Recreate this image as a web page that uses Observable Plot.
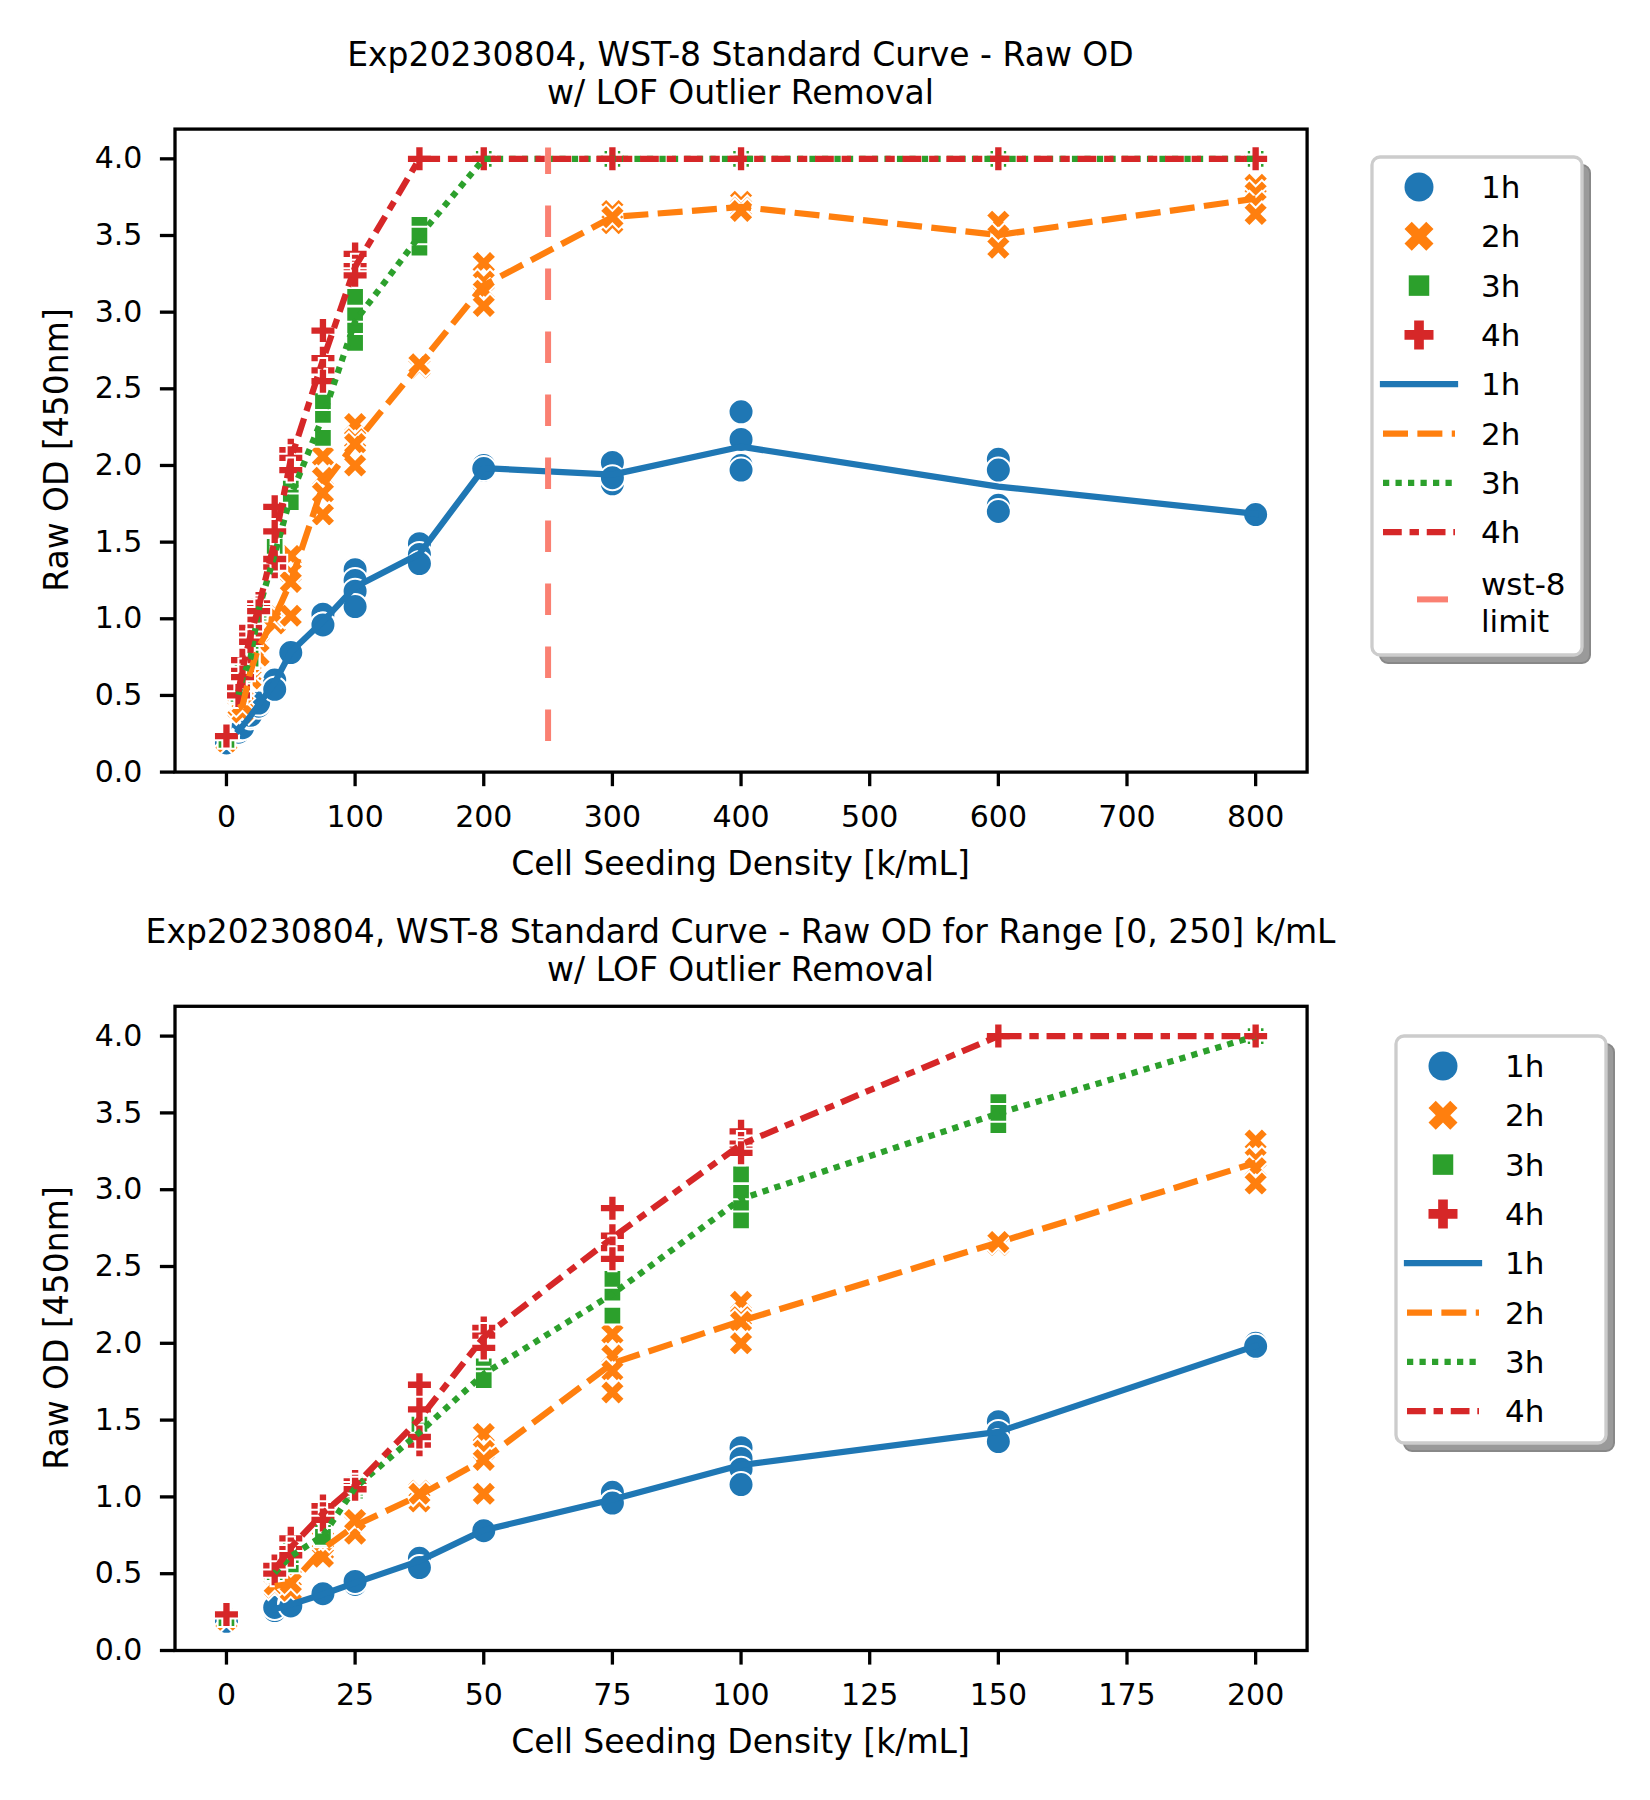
<!DOCTYPE html>
<html><head><meta charset="utf-8">
<script src="https://cdn.jsdelivr.net/npm/d3@7"></script>
<script src="https://cdn.jsdelivr.net/npm/@observablehq/plot@0.6"></script>
<style>
body{margin:0;background:#fff;}
#root{position:relative;width:1650px;height:1800px;font-family:"DejaVu Sans",sans-serif;color:#000;overflow:hidden;}
.title{position:absolute;left:0px;width:1481px;text-align:center;font-size:33px;white-space:nowrap;}
.xlabel{position:absolute;left:0px;width:1481px;text-align:center;font-size:33px;line-height:40px;white-space:nowrap;}
.ylabel{position:absolute;font-size:33px;line-height:40px;white-space:nowrap;transform:translate(-50%,-50%) rotate(-90deg);}
.plot{position:absolute;left:0;}
.legend{position:absolute;}
</style></head><body><div id="root"></div>
<script>
// ---- data ----
const density = [0, 9.375, 12.5, 18.75, 25, 37.5, 50, 75, 100, 150, 200, 300, 400, 600, 800];
const series = ["1h", "2h", "3h", "4h"];
const od1h = [[0.19],[0.27,0.26,0.28],[0.30,0.31,0.29],[0.37,0.36,0.37],[0.44,0.43,0.45],[0.61,0.60,0.54],[0.79,0.78,0.78],[1.03,0.96,0.96],[1.32,1.25,1.18,1.08],[1.49,1.42,1.36],[2.00,1.97,1.98],[2.02,1.88,1.92],[2.35,2.17,2.00,1.97],[2.04,1.97,1.74,1.70],[1.69,1.68]];
const od2h = [[0.20],[0.41,0.43],[0.47,0.39,0.44],[0.65,0.61,0.72],[0.83,0.76,0.85],[1.04,0.97,1.02],[1.41,1.30,1.24,1.02],[2.06,1.92,1.82,1.68],[2.27,2.17,2.14,2.00],[2.67,2.64,2.66],[3.32,3.20,3.14,3.04],[3.66,3.58,3.62],[3.72,3.68,3.66],[3.59,3.50,3.42],[3.83,3.78,3.71,3.64]];
const od3h = [[0.21],[0.50,0.51],[0.56,0.66,0.62],[0.73,0.77,0.74],[1.04,1.06,1.08],[1.41,1.38,1.47],[1.85,1.79,1.76],[2.35,2.33,2.18,2.42],[3.10,2.98,2.88,2.80],[3.57,3.42,3.50],[4,4,4],[4,4,4],[4,4,4],[4,4,4],[4,4,4]];
const od4h = [[0.235],[0.55,0.50],[0.73,0.66,0.62],[0.94,0.89,0.85],[1.10,1.07,1.05],[1.73,1.57,1.34,1.39],[2.10,2.05,1.97],[2.88,2.70,2.62,2.55],[3.38,3.30,3.26,3.24],[4,4,4],[4,4,4],[4,4,4],[4,4,4],[4,4,4],[4,4,4]];
const limitX = [250];
const limitRange = [0.2, 4.07];
const yTicks = [0, 0.5, 1.0, 1.5, 2.0, 2.5, 3.0, 3.5, 4.0];
const xTicksTop = [0, 100, 200, 300, 400, 500, 600, 700, 800];
const xTicksBottom = [0, 25, 50, 75, 100, 125, 150, 175, 200];
const titleTop = ["Exp20230804, WST-8 Standard Curve - Raw OD", "w/ LOF Outlier Removal"];
const titleBottom = ["Exp20230804, WST-8 Standard Curve - Raw OD for Range [0, 250] k/mL", "w/ LOF Outlier Removal"];
const xLabel = "Cell Seeding Density [k/mL]";
const yLabel = "Raw OD [450nm]";
const limitLabel = ["wst-8", "limit"];

// ---- styles ----
const colors = ["#1f77b4", "#ff7f0e", "#2ca02c", "#d62728"];
const LW = 6.25;
const dashes = [null, `${4*LW},${1.5*LW}`, `${LW},${LW}`, `${3*LW},${1.25*LW},${1.5*LW},${1.25*LW}`];

function poly(pts) {
  return {draw(ctx, size) {
    const r = Math.sqrt(size / Math.PI);
    pts.forEach(([x, y], i) => i ? ctx.lineTo(x * r, y * r) : ctx.moveTo(x * r, y * r));
    ctx.closePath();
  }};
}
const symCircle = {draw(ctx, size) { const r = Math.sqrt(size / Math.PI); ctx.moveTo(r, 0); ctx.arc(0, 0, r, 0, 2 * Math.PI); }};
const symX = poly([[-1,-2],[0,-1],[1,-2],[2,-1],[1,0],[2,1],[1,2],[0,1],[-1,2],[-2,1],[-1,0],[-2,-1]].map(([x,y]) => [x/2, y/2]));
const symSquare = poly([[-1,-1],[1,-1],[1,1],[-1,1]].map(([x,y]) => [x*Math.SQRT1_2, y*Math.SQRT1_2]));
const symPlus = poly([[-1,-3],[1,-3],[1,-1],[3,-1],[3,1],[1,1],[1,3],[-1,3],[-1,1],[-3,1],[-3,-1],[-1,-1]].map(([x,y]) => [x/3, y/3]));
const symbols = [symCircle, symX, symSquare, symPlus];

// ---- table ----
const allOD = [od1h, od2h, od3h, od4h];
const rows = [];
series.forEach((s, si) => density.forEach((x, xi) => allOD[si][xi].forEach(y => rows.push({series: s, x, y}))));

const root = document.getElementById("root");

function makePlot(data, xDomain, xTicks, withLimit, marginTop, marginBottom) {
  const marks = [];
  series.forEach((s, si) => {
    marks.push(Plot.dot(data.filter(d => d.series === s), {
      x: "x", y: "y", r: 12.5, symbol: symbols[si], fill: colors[si], stroke: "white", strokeWidth: 2
    }));
  });
  series.forEach((s, si) => {
    marks.push(Plot.line(data.filter(d => d.series === s && d.x > 0),
      Plot.groupX({y: "mean"}, {
        x: "x", y: "y", stroke: colors[si], strokeWidth: LW,
        strokeDasharray: dashes[si] || undefined,
        strokeLinecap: dashes[si] ? "butt" : "square", strokeLinejoin: "round"
      })));
  });
  if (withLimit) {
    marks.push(Plot.ruleX(limitX, {x: d => d, y1: limitRange[0], y2: limitRange[1], stroke: "salmon", strokeWidth: 6, strokeDasharray: "31.5,31.5"}));
  }
  marks.push(Plot.frame({stroke: "black", strokeWidth: 3.3}));
  marks.push(Plot.axisX({ticks: xTicks, tickSize: 14.6, tickPadding: 19, strokeWidth: 3.3, fontSize: 30, label: null}));
  marks.push(Plot.axisY({ticks: yTicks, tickSize: 14.6, tickPadding: 18, strokeWidth: 3.3, fontSize: 30, label: null, tickFormat: d3.format(".1f")}));
  return Plot.plot({
    width: 1650, height: 900,
    marginLeft: 174.5, marginRight: 343.4, marginTop, marginBottom,
    x: {domain: xDomain},
    y: {domain: [0, 4.194]},
    style: {fontFamily: "DejaVu Sans", color: "black", background: "white", overflow: "visible"},
    marks
  });
}

function addDiv(cls, html, css) {
  const d = document.createElement("div");
  d.className = cls; d.innerHTML = html; Object.assign(d.style, css); root.appendChild(d); return d;
}

const p1 = makePlot(rows, [-40, 840], xTicksTop, true, 128.6, 128.4);
p1.classList.add("plot"); p1.style.top = "0px"; root.appendChild(p1);
const p2 = makePlot(rows.filter(d => d.x <= 200), [-10, 210], xTicksBottom, false, 105.8, 150);
p2.classList.add("plot"); p2.style.top = "900px"; root.appendChild(p2);

addDiv("title", titleTop.join("<br>"), {top: "36px", lineHeight: "37.5px"});
addDiv("title", titleBottom.join("<br>"), {top: "913px", lineHeight: "38px"});
addDiv("xlabel", xLabel, {top: "843.5px"});
addDiv("xlabel", xLabel, {top: "1722px"});
addDiv("ylabel", yLabel, {left: "57px", top: "450px"});
addDiv("ylabel", yLabel, {left: "57px", top: "1328px"});

// ---- legends ----
function legend(left, top, h, withLimit) {
  const w = 210, pad = 4;
  const svg = d3.create("svg").attr("class", "legend").attr("width", w + 20).attr("height", h + 20)
    .style("left", (left - pad) + "px").style("top", (top - pad) + "px").style("position", "absolute");
  const g = svg.append("g").attr("transform", `translate(${pad},${pad})`);
  g.append("rect").attr("x", 8).attr("y", 8).attr("width", w).attr("height", h).attr("rx", 8)
    .attr("fill", "#9a9a9a").attr("stroke", "#888").attr("stroke-width", 2);
  g.append("rect").attr("x", 0).attr("y", 0).attr("width", w).attr("height", h).attr("rx", 8)
    .attr("fill", "white").attr("stroke", "#cccccc").attr("stroke-width", 3.3);
  const rowY = i => 30 + i * 49.3;
  const text = (y, t) => g.append("text").attr("x", 109).attr("y", y).attr("dy", "0.36em")
    .attr("font-family", "DejaVu Sans").attr("font-size", 31).attr("fill", "black").text(t);
  series.forEach((s, si) => {
    g.append("path").attr("transform", `translate(47,${rowY(si)})`)
      .attr("d", d3.symbol(symbols[si], Math.PI * 14.5 * 14.5)()).attr("fill", colors[si]);
    text(rowY(si), s);
  });
  series.forEach((s, si) => {
    const y = rowY(si + 4);
    g.append("line").attr("x1", 11).attr("x2", 83).attr("y1", y).attr("y2", y)
      .attr("stroke", colors[si]).attr("stroke-width", LW)
      .attr("stroke-dasharray", dashes[si]).attr("stroke-linecap", dashes[si] ? "butt" : "square");
    text(y, s);
  });
  if (withLimit) {
    const y0 = rowY(8);
    g.append("line").attr("x1", 45).attr("x2", 76).attr("y1", y0 + 18).attr("y2", y0 + 18)
      .attr("stroke", "salmon").attr("stroke-width", 6);
    text(y0 + 2, limitLabel[0]);
    text(y0 + 39, limitLabel[1]);
  }
  root.appendChild(svg.node());
}
legend(1372, 157, 498, true);
legend(1396, 1036, 407, false);
</script></body></html>
